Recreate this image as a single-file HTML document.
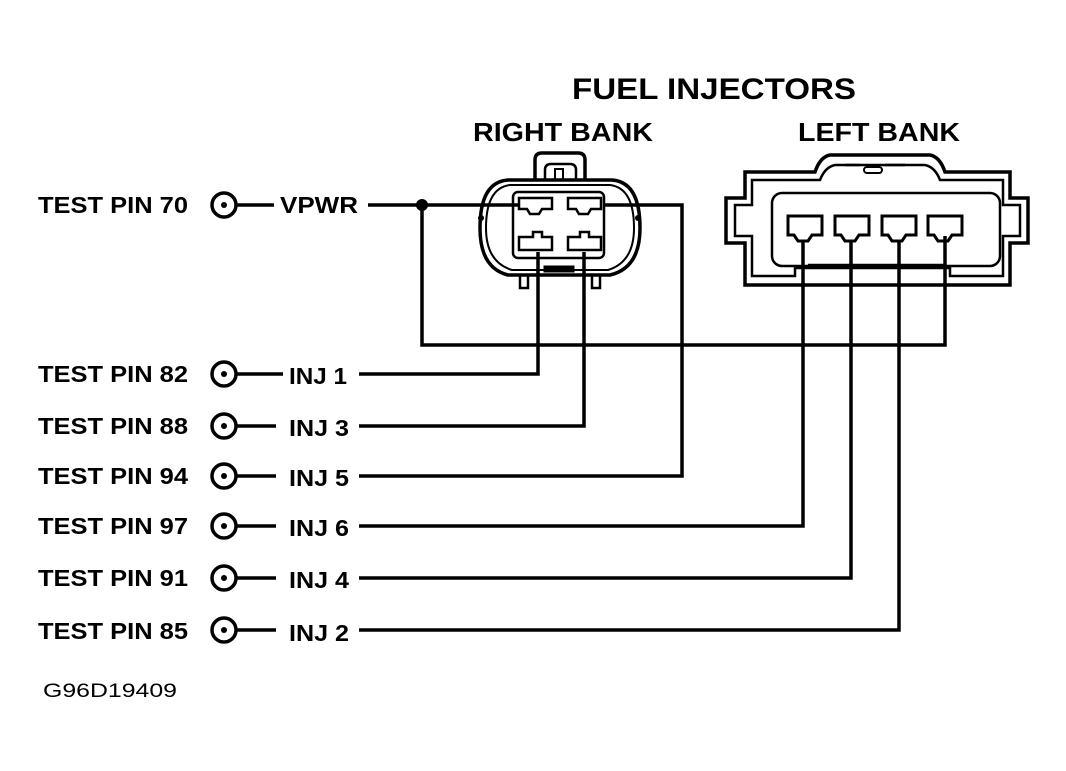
<!DOCTYPE html>
<html><head><style>html,body{margin:0;padding:0;background:#fff}svg{display:block}</style></head>
<body>
<svg width="1066" height="771" viewBox="0 0 1066 771" xmlns="http://www.w3.org/2000/svg" font-family="Liberation Sans, sans-serif">
<g font-weight="bold" fill="#000">
<text x="572" y="99" font-size="30" textLength="284" lengthAdjust="spacingAndGlyphs">FUEL INJECTORS</text>
<text x="473" y="141" font-size="26" textLength="180" lengthAdjust="spacingAndGlyphs">RIGHT BANK</text>
<text x="798" y="141" font-size="26" textLength="162" lengthAdjust="spacingAndGlyphs">LEFT BANK</text>
<g font-size="23">
<text x="38" y="213" textLength="150" lengthAdjust="spacingAndGlyphs">TEST PIN 70</text>
<text x="38" y="382" textLength="150" lengthAdjust="spacingAndGlyphs">TEST PIN 82</text>
<text x="38" y="434" textLength="150" lengthAdjust="spacingAndGlyphs">TEST PIN 88</text>
<text x="38" y="484" textLength="150" lengthAdjust="spacingAndGlyphs">TEST PIN 94</text>
<text x="38" y="534" textLength="150" lengthAdjust="spacingAndGlyphs">TEST PIN 97</text>
<text x="38" y="586" textLength="150" lengthAdjust="spacingAndGlyphs">TEST PIN 91</text>
<text x="38" y="639" textLength="150" lengthAdjust="spacingAndGlyphs">TEST PIN 85</text>
<text x="280" y="213" textLength="78" lengthAdjust="spacingAndGlyphs">VPWR</text>
<text x="289" y="384" textLength="58" lengthAdjust="spacingAndGlyphs">INJ 1</text>
<text x="289" y="436" textLength="60" lengthAdjust="spacingAndGlyphs">INJ 3</text>
<text x="289" y="486" textLength="60" lengthAdjust="spacingAndGlyphs">INJ 5</text>
<text x="289" y="536" textLength="60" lengthAdjust="spacingAndGlyphs">INJ 6</text>
<text x="289" y="588" textLength="60" lengthAdjust="spacingAndGlyphs">INJ 4</text>
<text x="289" y="641" textLength="60" lengthAdjust="spacingAndGlyphs">INJ 2</text>
</g>
</g>
<text x="43" y="697" font-size="19" textLength="134" lengthAdjust="spacingAndGlyphs">G96D19409</text>
<g fill="none" stroke="#000" stroke-width="3.5">
<g>
<circle cx="224" cy="205" r="12"/><circle cx="224" cy="374" r="12"/><circle cx="224" cy="426" r="12"/>
<circle cx="224" cy="476" r="12"/><circle cx="224" cy="526" r="12"/><circle cx="224" cy="578" r="12"/><circle cx="224" cy="630" r="12"/>
<path d="M236 205H274M236 374H283M236 426H276M236 476H276M236 526H276M236 578H276M236 630H276"/>
</g>
<path d="M368 205H518"/>
<path d="M422 205V345H945V236"/>
<path d="M603 205H682V476H359"/>
<path d="M538 252V374H359"/>
<path d="M584 252V426H359"/>
<path d="M803 242V526H359"/>
<path d="M851 242V578H359"/>
<path d="M899 242V630H359"/>
<!-- right bank connector -->
<path d="M535 180V160Q535 153 542 153H578Q585 153 585 160V180" />
<path d="M545 180V170Q545 164 551 164H570Q576 164 576 170V180" stroke-width="2.5"/>
<rect x="555" y="169" width="8" height="11" stroke-width="2"/>
<path d="M515 180H612Q640 182 640 228Q640 268 610 275H508Q480 268 480 228Q480 182 508 180Z" />
<path d="M510 185H610Q634 188 634 228Q634 262 608 270H512Q486 262 486 228Q486 188 510 185Z" stroke-width="2"/>
<rect x="513" y="192" width="91" height="66" rx="5" stroke-width="2.5"/>
<path d="M519 198H552V209H542L539 214H530L527 209H519Z" stroke-width="2.5"/>
<path d="M568 198H601V209H591L588 214H579L576 209H568Z" stroke-width="2.5"/>
<path d="M519 237H533V232H542V237H552V250H519Z" stroke-width="2.5"/>
<path d="M568 237H580V232H589V237H601V250H568Z" stroke-width="2.5"/>
<path d="M520 275V288H528V275M592 275V288H600V275" stroke-width="2.5"/>
<rect x="544" y="266" width="30" height="6" fill="#000" stroke-width="1"/>
<circle cx="481" cy="218" r="3" fill="#000" stroke="none"/>
<circle cx="638" cy="218" r="3" fill="#000" stroke="none"/>
<!-- left bank connector -->
<path d="M745 172H815Q820 157 830 155H930Q940 157 945 172H1010V198H1028V243H1010V285H745V243H726V198H745Z"/>
<path d="M752 180H820Q825 167 835 165H925Q935 167 940 180H1003V205H1020V236H1003V276H950V268H795V276H752V236H735V205H752Z" stroke-width="2.5"/>
<path d="M845 165H860M885 165H905" stroke-width="2.5"/>
<rect x="864" y="167" width="18" height="6" rx="3" stroke-width="2"/>
<rect x="772" y="193" width="228" height="73" rx="10" stroke-width="2.5"/>
<path d="M808 265H945" stroke-width="2.5"/>
<g stroke-width="3">
<path d="M788 216H822V235H812L808 241H798L794 235H788Z"/>
<path d="M835 216H869V235H859L855 241H845L841 235H835Z"/>
<path d="M882 216H916V235H906L902 241H892L888 235H882Z"/>
<path d="M928 216H962V235H952L948 241H938L934 235H928Z"/>
</g>
</g>
<g fill="#000">
<circle cx="224" cy="205" r="3"/><circle cx="224" cy="374" r="3"/><circle cx="224" cy="426" r="3"/>
<circle cx="224" cy="476" r="3"/><circle cx="224" cy="526" r="3"/><circle cx="224" cy="578" r="3"/><circle cx="224" cy="630" r="3"/>
<circle cx="422" cy="205" r="6"/>
</g>
</svg>
</body></html>
